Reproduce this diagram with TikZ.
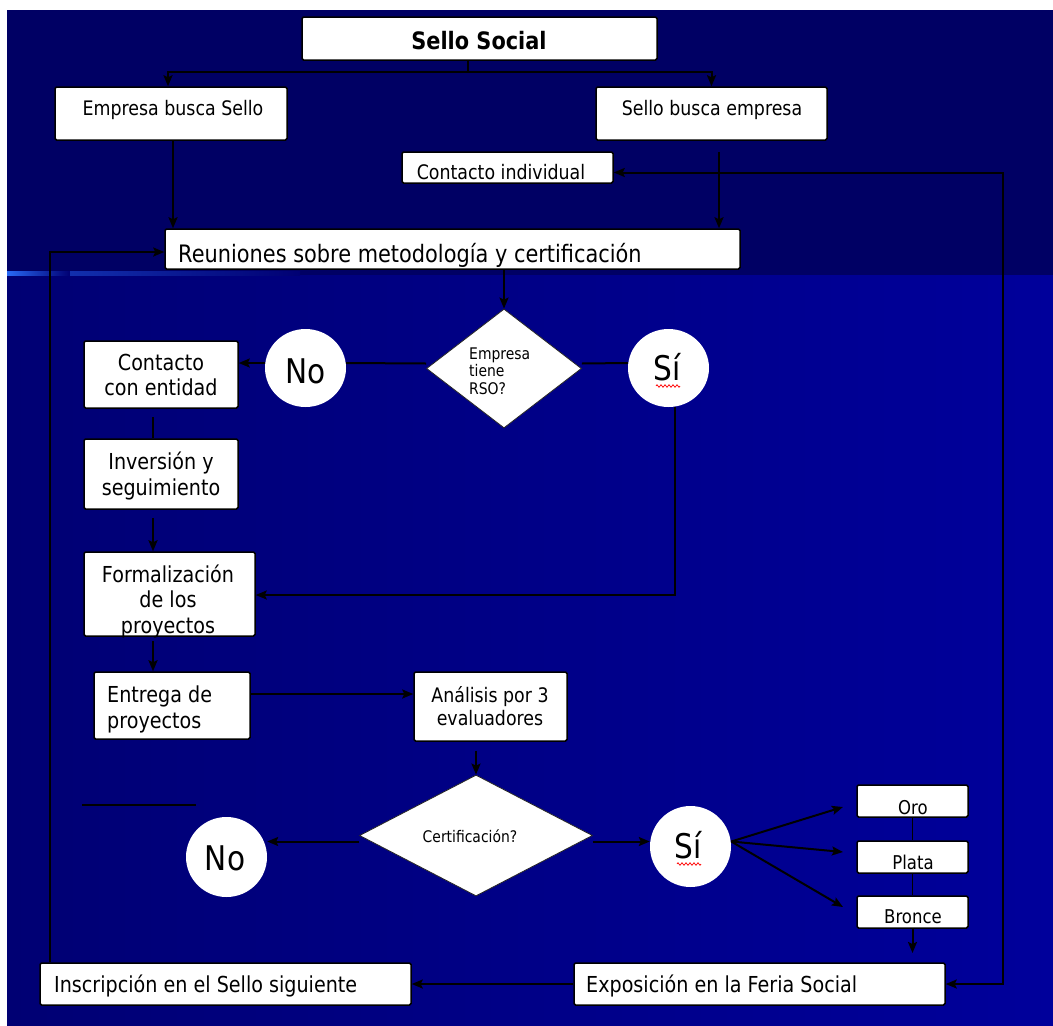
\documentclass[tikz,border=0pt]{standalone}
\usepackage{fontspec}
\setmainfont{DejaVu Sans}[FakeStretch=0.87]
\usetikzlibrary{shapes.geometric,arrows.meta,decorations.pathmorphing}

\definecolor{navytop}{RGB}{0,0,100}
\definecolor{navylowL}{RGB}{0,0,115}
\definecolor{navylowR}{RGB}{0,0,155}
\definecolor{streakblue}{RGB}{40,105,245}

\tikzset{
  box/.style={draw=black, line width=1.5pt, fill=white, rounded corners=1.5pt, inner sep=0pt},
  lbl/.style={inner sep=0pt, text=black},
  conn/.style={draw=black, line width=2pt},
  tip/.tip={Stealth[length=11pt,width=9pt,inset=2pt]},
  arr/.style={conn, -tip},
  arrboth/.style={conn, tip-tip},
  bubble/.style={ellipse, fill=white, inner sep=0pt},
  decision/.style={diamond, fill=white, draw=black!85, line width=0.8pt, inner sep=0pt},
  squiggle/.style={draw=red, line width=0.7pt, decorate,
    decoration={zigzag, segment length=4pt, amplitude=1.3pt}},
  f16/.style={font=\fontsize{16}{17.5}\selectfont},
  f19/.style={font=\fontsize{19}{23}\selectfont},
  f20/.style={font=\fontsize{20}{23.5}\selectfont},
  f22/.style={font=\fontsize{22}{25.5}\selectfont},
  f24/.style={font=\fontsize{24}{28}\selectfont},
  f34/.style={font=\fontsize{34}{38}\selectfont},
}

\begin{document}
\begin{tikzpicture}[x=1pt, y=-1pt]
\useasboundingbox (0,0) rectangle (1053,1026);

% backdrop: white page, dark header band, lighter lower field with a glint
\fill[white] (0,0) rectangle (1053,1026);
\shade[left color=navylowL, right color=navylowR] (7,275) rectangle (1053,1025);
\fill[navytop] (7,10) rectangle (1053,275);
\shade[left color=streakblue, right color=navylowL] (7,271.5) rectangle (70,275.5);
\shade[left color=streakblue!45!navylowL, right color=navylowL] (70,271.5) rectangle (300,275.5);

% ---------- boxes ----------
\node[box, minimum width=355pt, minimum height=43pt] (ss) at (479.5,38.5) {};
\node[box, minimum width=232pt, minimum height=53pt] (ebs) at (171,113.5) {};
\node[box, minimum width=231pt, minimum height=53pt] (sbe) at (711.5,113.5) {};
\node[box, minimum width=211pt, minimum height=31pt] (ci) at (507.5,167.5) {};
\node[box, minimum width=575pt, minimum height=40pt] (reu) at (452.5,249) {};

\node[decision, minimum width=155pt, minimum height=119pt] (d1) at (504,368.5) {};
\node[bubble, minimum width=81pt, minimum height=78pt] (no1) at (305.5,368) {};
\node[bubble, minimum width=81pt, minimum height=78pt] (si1) at (668.5,368) {};

\node[box, minimum width=154pt, minimum height=67pt] (cce) at (161,374.5) {};
\node[box, minimum width=154pt, minimum height=70pt] (inv) at (161,474) {};
\node[box, minimum width=171pt, minimum height=84pt] (form) at (169.5,594) {};
\node[box, minimum width=156pt, minimum height=67pt] (ent) at (172,705.5) {};
\node[box, minimum width=153pt, minimum height=69pt] (ana) at (490.5,706.5) {};

\node[decision, minimum width=233pt, minimum height=121pt] (d2) at (476,835.5) {};
\node[bubble, minimum width=81pt, minimum height=80pt] (no2) at (226.5,857) {};
\node[bubble, minimum width=81pt, minimum height=81pt] (si2) at (690.5,846.5) {};

\node[box, minimum width=111pt, minimum height=32pt] (oro) at (912.5,801) {};
\node[box, minimum width=111pt, minimum height=32pt] (plata) at (912.5,857) {};
\node[box, minimum width=111pt, minimum height=32pt] (bronce) at (912.5,912) {};

\node[box, minimum width=371pt, minimum height=42pt] (expo) at (759.5,984) {};
\node[box, minimum width=371pt, minimum height=42pt] (insc) at (225.5,984) {};

% ---------- texts ----------
\node[lbl, anchor=base, font=\bfseries\fontsize{24}{28}\selectfont] (ss-t) at (479,49) {Sello Social};
\node[lbl, f20, anchor=base] (ebs-t) at (173,115) {Empresa busca Sello};
\node[lbl, f20, anchor=base] (sbe-t) at (712,115) {Sello busca empresa};
\node[lbl, f20, anchor=base] (ci-t) at (501,179) {Contacto individual};
\node[lbl, f24, anchor=base west] (reu-t) at (178,262) {Reuniones sobre metodología y certificación};

\node[lbl, f16, align=left, anchor=west] (d1-t) at (469,371) {Empresa\\tiene\\RSO?};
\node[lbl, f34, anchor=base] (no1-t) at (305.5,383) {No};
\node[lbl, f34, anchor=base] (si1-t) at (667,380) {Sí};

\node[lbl, f22, align=center] (cce-t) at (161,374.8) {Contacto\\con entidad};
\node[lbl, f22, align=center] (inv-t) at (161,476) {Inversión y\\seguimiento};
\node[lbl, f22, align=center] (form-t) at (168,601) {Formalización\\de los\\proyectos};
\node[lbl, f22, align=left, anchor=west] (ent-t) at (107,709.3) {Entrega de\\proyectos};
\node[lbl, f20, align=center] (ana-t) at (490,706.3) {Análisis por 3\\evaluadores};

\node[lbl, f16, anchor=base] (d2-t) at (470,842) {Certificación?};
\node[lbl, f34, anchor=base] (no2-t) at (225,870) {No};
\node[lbl, f34, anchor=base] (si2-t) at (688,858) {Sí};

\node[lbl, f19, anchor=base] (oro-t) at (913,814) {Oro};
\node[lbl, f19, anchor=base] (plata-t) at (913,869) {Plata};
\node[lbl, f19, anchor=base] (bronce-t) at (913,923) {Bronce};

\node[lbl, f22, anchor=base west] (expo-t) at (586,992) {Exposición en la Feria Social};
\node[lbl, f22, anchor=base west] (insc-t) at (54,992) {Inscripción en el Sello siguiente};

% spell-check marks under the two "Sí"
\draw[squiggle] (656,386) -- (680,386);
\draw[squiggle] (677,864) -- (701,864);

% ---------- helper points ----------
\coordinate (split) at (468,72);
\coordinate (loopL) at (50,0);
\coordinate (loopR) at (1003,0);
\coordinate (toOro) at (843,807);
\coordinate (toPlata) at (843,852);
\coordinate (toBronce) at (843,907);
\coordinate (medalOut) at (912.5,953);
\coordinate (strayA) at (82,805);
\coordinate (strayB) at (196,805);

% ---------- connectors ----------
\draw[conn] (ss.south -| split) -- (split);
\draw[arr] (split) -| ([xshift=-3pt]ebs.north);
\draw[arr] (split) -| (sbe.north);
\draw[arr] ([xshift=2pt]ebs.south) -- ([xshift=2pt]ebs.south |- reu.north);
\draw[arr] ([xshift=7.5pt,yshift=-11pt]sbe.south) -- ([xshift=7.5pt]sbe.south |- reu.north);

\draw[arr] (insc.north -| loopL) |- ([yshift=-3pt]reu.west);
\draw[arrboth] (expo.east) -- (expo.east -| loopR) |- ([yshift=-5pt]ci.east);

\draw[arr] (reu.south -| d1.north) -- (d1.north);
\draw[conn] ([yshift=5pt]d1.west) -- ([yshift=5pt]no1.east);
\draw[arr] ([yshift=5pt]no1.west) -- ([yshift=5pt]no1.west -| cce.east);
\draw[conn] ([yshift=5pt]d1.east) -- ([yshift=5pt]si1.west);
\draw[arr] ([xshift=6.5pt]si1.south) |- ([yshift=-1pt]form.east);

\draw[conn] ([xshift=-8pt,yshift=-8pt]cce.south) -- ([xshift=-8pt]inv.north);
\draw[arr] ([xshift=-8pt,yshift=-8pt]inv.south) -- ([xshift=-8pt]inv.south |- form.north);
\draw[arr] ([xshift=-16.5pt,yshift=-4pt]form.south) -- ([xshift=-16.5pt]form.south |- ent.north);
\draw[arr] ([yshift=11.5pt]ent.east) -- ([yshift=11.5pt]ent.east -| ana.west);
\draw[arr] ([yshift=-9pt]ana.south -| d2.north) -- (d2.north);

\draw[arr] ([yshift=-6pt]d2.west) -- ([yshift=-6pt]d2.west -| no2.east);
\draw[arr] ([yshift=-6pt]d2.east) -- ([yshift=-6pt]d2.east -| si2.west);

\draw[arr] ([yshift=5pt]si2.east) -- (toOro);
\draw[arr] ([yshift=5pt]si2.east) -- (toPlata);
\draw[arr] ([yshift=5pt]si2.east) -- (toBronce);
\draw[conn, line width=1.5pt] (oro) -- (plata);
\draw[conn, line width=1.5pt] (plata) -- (bronce);
\draw[arr] (bronce) -- (medalOut);

\draw[arr] (expo) -- (insc);
\draw[conn, line width=1.5pt] (strayA) -- (strayB);
\end{tikzpicture}
\end{document}
